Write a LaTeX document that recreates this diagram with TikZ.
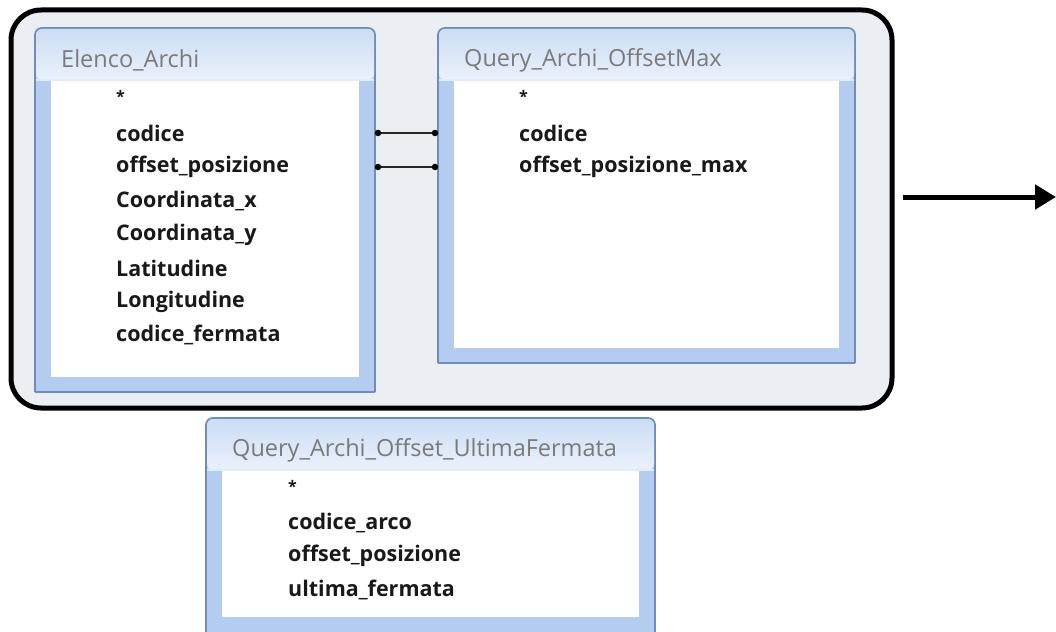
\documentclass[tikz,border=0pt]{standalone}
\usepackage{fontspec}
\setmainfont{Open Sans}
\usetikzlibrary{arrows.meta}

\definecolor{panelgray}{HTML}{EBEEF2}
\definecolor{frameblue}{HTML}{B3CCEF}
\definecolor{frameedge}{HTML}{6F8DB8}
\definecolor{titletop}{HTML}{CCDDF4}
\definecolor{titlebot}{HTML}{EAF1FB}
\definecolor{titletext}{HTML}{7A7A7A}

% one query/table window: #1 name, (#2,#3) top-left, (#4,#5) bottom-right,
% #6 bottom of the title bar, #7 bottom of the white field list, #8 title
\newcommand\dbwindow[8]{%
  \path[draw=frameedge, fill=frameblue, line width=1.8pt, rounded corners=7]
    (#2,#5) -- (#2,#3) -- (#4,#3) -- (#4,#5);
  \draw[frameedge, line width=1.8pt] (#2,#5) -- (#4,#5);
  \shade[top color=titletop, bottom color=titlebot, rounded corners=6]
    (#2+1,#6) -- (#2+1,#3+1) -- (#4-1,#3+1) -- (#4-1,#6) -- cycle;
  \draw[white!60!frameblue, line width=1.2pt] (#2+1,#6) -- (#4-1,#6);
  \node[fill=white, inner sep=0, minimum width=#4-#2-32, minimum height=#7-#6-1,
        anchor=north west] (#1) at (#2+16,#6+1) {};
  \coordinate (#1-left) at (#2,#3);
  \coordinate (#1-right) at (#4,#3);
  \node[titlestyle] (#1-title) at (#2+26,#6-20) {#8};
}

\tikzset{
  titlestyle/.style={anchor=west, inner sep=0, text=titletext, font=\fontsize{23.5}{26}\selectfont},
  fieldstyle/.style={anchor=west, inner sep=0, text=black!90, font=\fontsize{21.5}{24}\selectfont\bfseries},
  starstyle/.style={fieldstyle, font=\fontsize{16}{18}\selectfont\bfseries},
  joinline/.style={line width=2.4pt, black!85},
  joindot/.style={circle, fill=black, inner sep=0, minimum size=6.5pt},
}

\begin{document}
\begin{tikzpicture}[x=1pt, y=-1pt]
\useasboundingbox (0,0) rectangle (1056,631);
\clip (0,0) rectangle (1056,631);

% grouping panel
\draw[line width=5pt, fill=panelgray, rounded corners=30] (11,10) rectangle (892,408);

% windows
\dbwindow{elenco}{35}{28}{375}{392}{80}{377}{Elenco\_Archi}
\dbwindow{offmax}{438}{28}{855}{363}{80}{348}{Query\_Archi\_OffsetMax}
\dbwindow{ultima}{206}{418}{655}{640}{470}{617}{Query\_Archi\_Offset\_UltimaFermata}

% fields of Elenco_Archi
\node[starstyle]  (e0) at (116,96)  {*};
\node[fieldstyle] (e1) at (116,133) {codice};
\node[fieldstyle] (e2) at (116,167) {offset\_posizione};
\node[fieldstyle] (e3) at (116,201) {Coordinata\_x};
\node[fieldstyle] (e4) at (116,235) {Coordinata\_y};
\node[fieldstyle] (e5) at (116,268) {Latitudine};
\node[fieldstyle] (e6) at (116,302) {Longitudine};
\node[fieldstyle] (e7) at (116,335) {codice\_fermata};

% fields of Query_Archi_OffsetMax
\node[starstyle]  (q0) at (519,96)  {*};
\node[fieldstyle] (q1) at (519,133) {codice};
\node[fieldstyle] (q2) at (519,167) {offset\_posizione\_max};

% fields of Query_Archi_Offset_UltimaFermata
\node[starstyle]  (u0) at (288,486) {*};
\node[fieldstyle] (u1) at (288,523) {codice\_arco};
\node[fieldstyle] (u2) at (288,556) {offset\_posizione};
\node[fieldstyle] (u3) at (288,590) {ultima\_fermata};

% join lines between the two windows
\coordinate (j1a) at ([xshift=3pt]elenco-right |- e1);
\coordinate (j1b) at ([xshift=-3pt]offmax-left |- q1);
\coordinate (j2a) at ([xshift=3pt]elenco-right |- e2);
\coordinate (j2b) at ([xshift=-3pt]offmax-left |- q2);
\draw[joinline] (j1a) -- (j1b);
\draw[joinline] (j2a) -- (j2b);
\foreach \p in {j1a,j1b,j2a,j2b} \node[joindot] at (\p) {};

% outgoing arrow
\coordinate (arrowstart) at (903,197);
\coordinate (arrowend) at (1056,197);
\draw[line width=5pt, -{Triangle[length=21pt, width=24pt]}] (arrowstart) -- (arrowend);
\end{tikzpicture}
\end{document}
